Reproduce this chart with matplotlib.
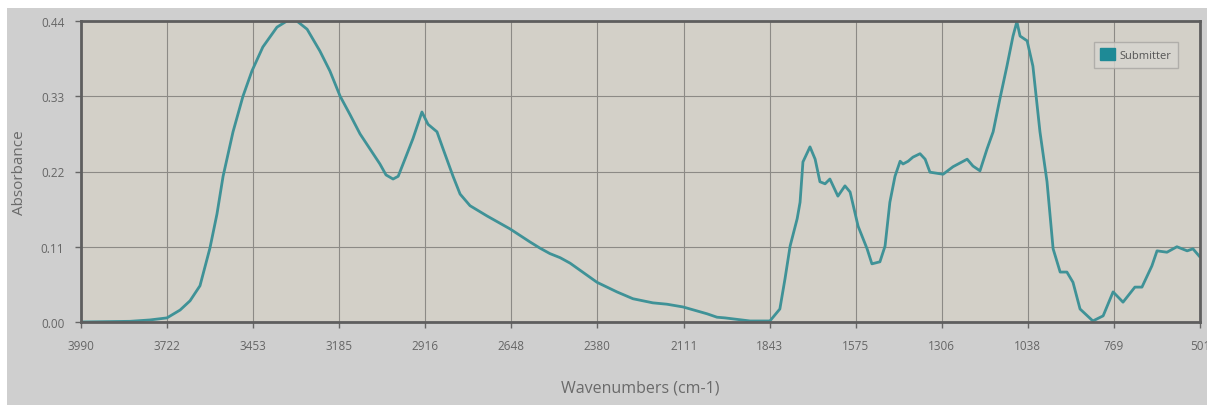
import matplotlib.pyplot as plt
from matplotlib.patches import Rectangle, Patch

# spectrum
wavenumbers = [3990, 3837, 3775, 3722, 3681, 3650, 3619, 3588, 3566, 3547,
               3516, 3485, 3457, 3423, 3379, 3348, 3317, 3285, 3245, 3214,
               3182, 3151, 3120, 3089, 3058, 3039, 3017, 3001, 2980, 2955,
               2927, 2908, 2880, 2861, 2830, 2808, 2777, 2724, 2652, 2590,
               2559, 2528, 2496, 2465, 2381, 2319, 2269, 2207, 2163, 2113,
               2038, 2007, 1982, 1904, 1842, 1811, 1795, 1779, 1757, 1748,
               1739, 1717, 1701, 1686, 1670, 1655, 1630, 1608, 1592, 1567,
               1539, 1524, 1499, 1483, 1468, 1452, 1436, 1427, 1411, 1396,
               1374, 1358, 1343, 1302, 1271, 1227, 1209, 1187, 1165, 1146,
               1125, 1103, 1084, 1072, 1062, 1040, 1022, 1000, 978, 959,
               937, 916, 897, 875, 835, 803, 772, 741, 704, 682,
               651, 635, 604, 573, 541, 523, 501]
absorbance = [0.000, 0.001, 0.003, 0.006, 0.0175, 0.031, 0.053, 0.108, 0.158, 0.213,
              0.278, 0.330, 0.367, 0.402, 0.431, 0.440, 0.440, 0.428, 0.396, 0.367,
              0.330, 0.303, 0.275, 0.253, 0.231, 0.215, 0.209, 0.213, 0.238, 0.268,
              0.307, 0.289, 0.278, 0.253, 0.213, 0.187, 0.170, 0.155, 0.136, 0.117,
              0.108, 0.100, 0.094, 0.086, 0.058, 0.044, 0.034, 0.028, 0.026, 0.022,
              0.012, 0.007, 0.006, 0.0015, 0.0015, 0.019, 0.063, 0.111, 0.151, 0.175,
              0.234, 0.256, 0.238, 0.205, 0.202, 0.209, 0.184, 0.199, 0.190, 0.140,
              0.107, 0.085, 0.088, 0.111, 0.175, 0.213, 0.235, 0.231, 0.235, 0.241,
              0.246, 0.238, 0.219, 0.216, 0.227, 0.238, 0.228, 0.221, 0.253, 0.278,
              0.326, 0.374, 0.418, 0.439, 0.418, 0.411, 0.374, 0.278, 0.205, 0.107,
              0.073, 0.073, 0.058, 0.019, 0.0015, 0.009, 0.044, 0.029, 0.051, 0.051,
              0.082, 0.104, 0.102, 0.110, 0.104, 0.107, 0.095]

x_ticks = [3990, 3722, 3453, 3185, 2916, 2648, 2380, 2111, 1843, 1575, 1306, 1038, 769, 501]
y_ticks = [0.00, 0.11, 0.22, 0.33, 0.44]

line_color = "#3f9297"
plt.rcParams['font.family'] = ['Open Sans', 'DejaVu Sans']

fig = plt.figure(figsize=(12.07, 4.06), dpi=100, facecolor="white")
# grey panel behind everything (the screenshot has a thin white margin top/left)
fig.add_artist(Rectangle((7 / 1207, 0), 1 - 7 / 1207, 1 - 9 / 406,
                         transform=fig.transFigure, facecolor="#cfcfcf",
                         edgecolor="none", zorder=-5))

ax = fig.add_axes([81 / 1207, 1 - 323 / 406, 1119 / 1207, 301 / 406])
ax.set_facecolor("#d3d0c8")
ax.plot(wavenumbers, absorbance, color=line_color, lw=2.0,
        solid_joinstyle="round", solid_capstyle="round")

ax.set_xlim(3990, 501)
ax.set_ylim(0, 0.44)
ax.set_xticks(x_ticks)
ax.set_xticklabels([str(t) for t in x_ticks])
ax.set_yticks(y_ticks)
ax.set_yticklabels([f"{t:.2f}" for t in y_ticks])
ax.grid(True, color="#8c8a86", lw=0.8)
ax.set_axisbelow(True)
ax.tick_params(colors="#666666", labelsize=8.5, length=4, width=1, pad=8)

for s in ax.spines.values():
    s.set_color("#5e5e5e")
    s.set_linewidth(2)

ax.set_ylabel("Absorbance", fontsize=11, color="#6a6a6a", labelpad=10)
ax.set_xlabel("Wavenumbers (cm-1)", fontsize=11.5, color="#6a6a6a", labelpad=20)

leg = ax.legend(handles=[Patch(facecolor="#1e8a96", edgecolor="#1e8a96", label="Submitter")],
                loc="upper right", bbox_to_anchor=(0.985, 0.95), fontsize=8,
                frameon=True, fancybox=False, handlelength=1.3, handleheight=1.3,
                handletextpad=0.4, borderpad=0.6)
leg.get_frame().set_facecolor("#d8d6d0")
leg.get_frame().set_edgecolor("#a8a6a2")
for t in leg.get_texts():
    t.set_color("#555555")

fig.savefig("out.png", dpi=100, facecolor=fig.get_facecolor())
